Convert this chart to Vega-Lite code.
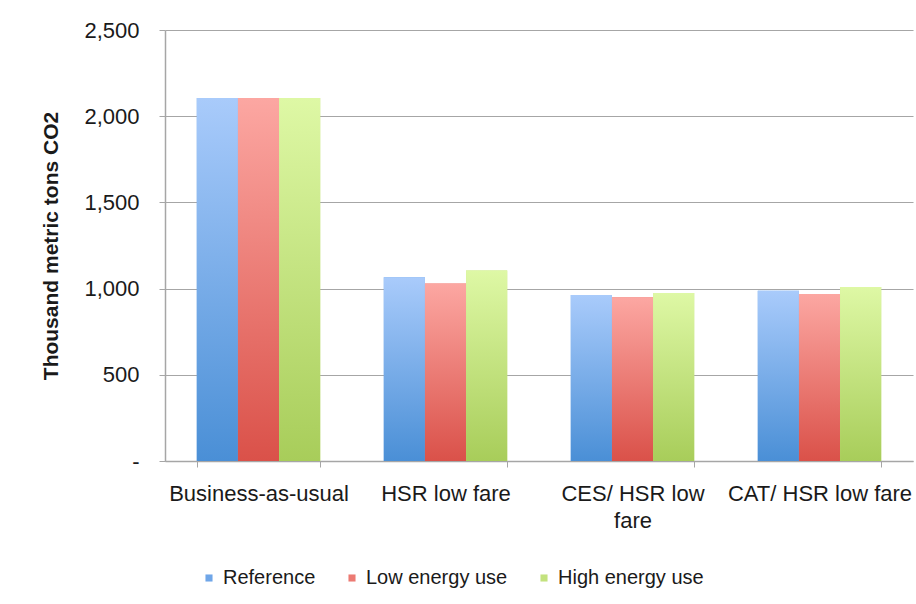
{
  "$schema": "https://vega.github.io/schema/vega-lite/v6.json",
  "width": 748,
  "height": 431,
  "autosize": "none",
  "padding": {"left": 165, "top": 30, "right": 3, "bottom": 143},
  "background": "white",
  "data": {
    "values": [
      {"scenario": "Business-as-usual", "series": "Reference", "value": 2105},
      {"scenario": "Business-as-usual", "series": "Low energy use", "value": 2105},
      {"scenario": "Business-as-usual", "series": "High energy use", "value": 2105},
      {"scenario": "HSR low fare", "series": "Reference", "value": 1066},
      {"scenario": "HSR low fare", "series": "Low energy use", "value": 1029},
      {"scenario": "HSR low fare", "series": "High energy use", "value": 1105},
      {"scenario": "CES/ HSR low fare", "series": "Reference", "value": 963},
      {"scenario": "CES/ HSR low fare", "series": "Low energy use", "value": 950},
      {"scenario": "CES/ HSR low fare", "series": "High energy use", "value": 975},
      {"scenario": "CAT/ HSR low fare", "series": "Reference", "value": 988},
      {"scenario": "CAT/ HSR low fare", "series": "Low energy use", "value": 969},
      {"scenario": "CAT/ HSR low fare", "series": "High energy use", "value": 1010}
    ]
  },
  "encoding": {
    "x": {
      "field": "scenario",
      "type": "nominal",
      "sort": ["Business-as-usual", "HSR low fare", "CES/ HSR low fare", "CAT/ HSR low fare"],
      "scale": {"paddingInner": 0.34, "paddingOuter": 0.17},
      "axis": {
        "title": null,
        "labelAngle": 0,
        "labelFont": "Liberation Sans",
        "labelFontSize": 22,
        "labelColor": "#1a1a1a",
        "labelPadding": 16,
        "labelLineHeight": 27,
        "labelLimit": 0,
        "labelOverlap": false,
        "labelExpr": "datum.label == 'CES/ HSR low fare' ? ['CES/ HSR low', 'fare'] : datum.label",
        "tickBand": "extent",
        "tickColor": "#a6a6a6",
        "tickSize": 6,
        "domainColor": "#a6a6a6",
        "domainWidth": 1.5
      }
    },
    "xOffset": {
      "field": "series",
      "type": "nominal",
      "sort": ["Reference", "Low energy use", "High energy use"],
      "scale": {"paddingInner": 0, "paddingOuter": 0}
    },
    "y": {
      "field": "value",
      "type": "quantitative",
      "scale": {"domain": [0, 2500], "nice": false},
      "axis": {
        "title": "Thousand metric tons CO2",
        "titleFont": "Liberation Sans",
        "titleFontSize": 21,
        "titleFontWeight": "bold",
        "titleColor": "#1a1a1a",
        "titlePadding": 22,
        "values": [0, 500, 1000, 1500, 2000, 2500],
        "labelExpr": "datum.value == 0 ? '-' : format(datum.value, ',')",
        "labelFont": "Liberation Sans",
        "labelFontSize": 22,
        "labelColor": "#1a1a1a",
        "labelPadding": 20,
        "tickColor": "#a6a6a6",
        "tickSize": 6,
        "domainColor": "#a6a6a6",
        "domainWidth": 1.5,
        "grid": true,
        "gridColor": "#a6a6a6",
        "gridWidth": 1.2
      }
    }
  },
  "layer": [
    {
      "mark": {"type": "bar"},
      "encoding": {
        "color": {
          "field": "series",
          "type": "nominal",
          "sort": ["Reference", "Low energy use", "High energy use"],
          "scale": {
            "domain": ["Reference", "Low energy use", "High energy use"],
            "range": ["#6fa6e8", "#ec7a73", "#c3e27e"]
          },
          "legend": {
            "title": null,
            "orient": "none",
            "direction": "horizontal",
            "legendX": 34,
            "legendY": 538,
            "symbolType": "square",
            "symbolSize": 50,
            "symbolStrokeWidth": 0,
            "labelFont": "Liberation Sans",
            "labelFontSize": 20,
            "labelColor": "#1a1a1a",
            "labelOffset": 4,
            "labelLimit": 0,
            "columnPadding": 26
          }
        }
      }
    },
    {
      "mark": {"type": "bar"},
      "encoding": {
        "fill": {
          "condition": [
            {"test": "datum.series == 'Reference'", "value": {"gradient": "linear", "x1": 0, "y1": 0, "x2": 0, "y2": 1, "stops": [{"offset": 0, "color": "#a9cbfb"}, {"offset": 1, "color": "#4a8fd6"}]}},
            {"test": "datum.series == 'Low energy use'", "value": {"gradient": "linear", "x1": 0, "y1": 0, "x2": 0, "y2": 1, "stops": [{"offset": 0, "color": "#fca7a2"}, {"offset": 1, "color": "#da5149"}]}}
          ],
          "value": {"gradient": "linear", "x1": 0, "y1": 0, "x2": 0, "y2": 1, "stops": [{"offset": 0, "color": "#def8a5"}, {"offset": 1, "color": "#a8cd5a"}]}
        }
      }
    }
  ],
  "config": {
    "view": {"stroke": null},
    "axisY": {"gridDash": []}
  }
}
